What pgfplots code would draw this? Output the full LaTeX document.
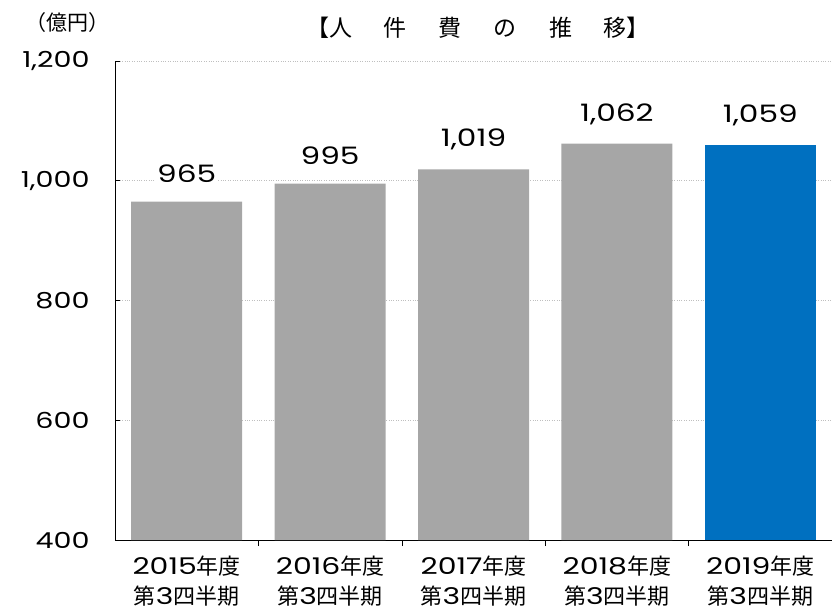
\documentclass[border=0pt]{standalone}
\usepackage{fontspec}
\setmainfont{Noto Sans CJK JP}
\newfontfamily\numf[FakeStretch=1.3]{Poppins}
\usepackage{pgfplots}
\pgfplotsset{compat=1.18}
\definecolor{bargray}{HTML}{A6A6A6}
\definecolor{barblue}{HTML}{0070C0}
\definecolor{gridgray}{HTML}{BFBFBF}
\newcommand{\xl}[1]{{\numf\fontsize{23}{30}\selectfont #1}年度\\第{\numf\fontsize{23}{30}\selectfont 3}四半期}
\begin{document}
\begin{tikzpicture}[x=1pt,y=1pt]
\useasboundingbox (0,0) rectangle (832,611);
\node[font=\fontsize{21}{24}\selectfont] at (67,588) {（億円）};
\node[font=\fontsize{23}{26}\selectfont] at (478,583) {【人\hspace{32pt}件\hspace{32pt}費\hspace{32pt}の\hspace{32pt}推\hspace{32pt}移】};
\begin{axis}[
  at={(115pt,71pt)}, anchor=south west,
  scale only axis, width=717pt, height=479pt,
  xmin=-0.5, xmax=4.5, ymin=400, ymax=1200,
  axis x line*=bottom, axis y line*=left,
  axis line style={-, black, line width=0.8pt},
  ytick={400,600,800,1000,1200},
  ymajorgrids, grid style={gridgray, dotted, line width=0.6pt},
  xtick={0,1,2,3,4},
  xticklabels={{\xl{2015}},{\xl{2016}},{\xl{2017}},{\xl{2018}},{\xl{2019}}},
  minor xtick={0.5,1.5,2.5,3.5},
  major tick length=5pt,
  minor tick length=6pt,
  xtick style={draw=none},
  ytick style={draw=black, line width=0.8pt},
  minor x tick style={draw=black, line width=0.6pt},
  tick align=inside,
  /pgf/number format/assume math mode=true,
  /pgf/number format/1000 sep={,},
  yticklabel style={font=\numf\fontsize{22}{24}\selectfont, xshift=-22pt},
  xticklabel style={font=\fontsize{22}{30}\selectfont, align=center, yshift=-7pt},
  ybar, bar width=0.774, bar shift=0pt,
  nodes near coords,
  every node near coord/.append style={font=\numf\fontsize{24}{26}\selectfont, fill=white, inner sep=2pt, yshift=17pt, text=black},
  clip=false,
]
\addplot[fill=bargray, draw=none] coordinates {(0,965) (1,995) (2,1019) (3,1062)};
\addplot[fill=barblue, draw=none] coordinates {(4,1059)};
\end{axis}
\end{tikzpicture}
\end{document}
